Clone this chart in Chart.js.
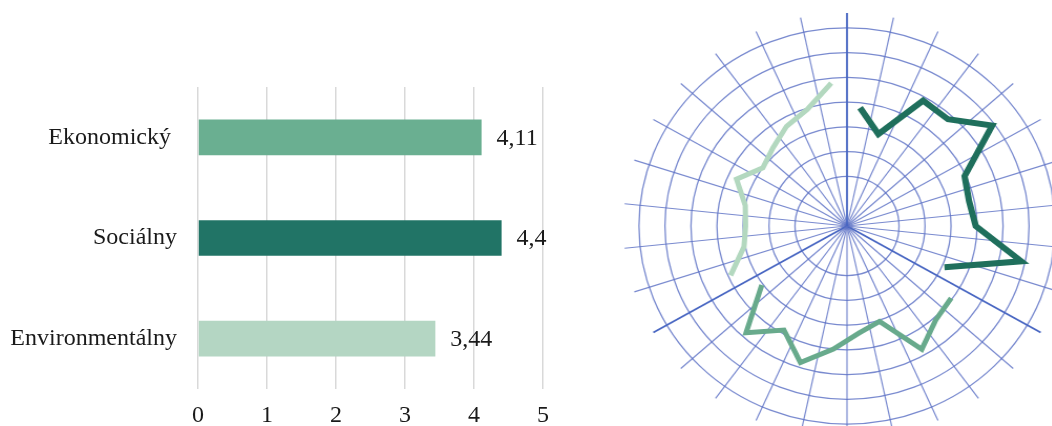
<!DOCTYPE html>
<html>
<head>
<meta charset="utf-8">
<script src="https://cdn.jsdelivr.net/npm/chart.js@4.4.1/dist/chart.umd.min.js"></script>
<style>
  html, body { margin: 0; padding: 0; background: #ffffff; overflow: hidden; }
  body { width: 1052px; height: 426px; position: relative; }
  #barBox { position: absolute; left: 0; top: 0; width: 600px; height: 426px; }
  #radarBox { position: absolute; left: 634px; top: 13px; width: 426px; height: 426px;
              transform: scaleX(1.05); transform-origin: 213px 213px; }
</style>
</head>
<body>
<div id="barBox"><canvas id="bars" width="600" height="426"></canvas></div>
<div id="radarBox"><canvas id="radar" width="426" height="426"></canvas></div>
<script>
// ---- Bar chart: average score per pillar ----
const categories = ['Ekonomický ', 'Sociálny', 'Environmentálny'];
const scores = [4.11, 4.4, 3.44];
const barColors = ['#6aaf91', '#217466', '#b4d6c3'];
const xTickValues = [0, 1, 2, 3, 4, 5];

// ---- Radar: 30 spokes, each pillar covers 10 of them ----
const spokeLabels = Array.from({ length: 30 }, () => '');
const mainAxes = [0, 10, 20];
const socialValues = [4.8, 3.9, 5.85, 5.8, 6.9, 4.95, 4.8, 4.95, 6.85, 4.1];
const economicValues = [4.95, 5.1, 5.75, 4.05, 4.35, 5.0, 5.8, 4.85, 5.8, 4.05];
const environmentalValues = [4.9, 4.05, 3.9, 4.0, 4.65, 4.0, 4.25, 4.65, 4.95, 5.8];

const serif = "'Liberation Serif', 'Times New Roman', serif";
const textColor = '#1a1a1a';

// writes the value at the end of each bar, with a decimal comma
const valueLabels = {
  id: 'valueLabels',
  afterDatasetsDraw(chart) {
    const { ctx } = chart;
    const meta = chart.getDatasetMeta(0);
    ctx.save();
    ctx.font = '24px ' + serif;
    ctx.fillStyle = textColor;
    ctx.textAlign = 'left';
    ctx.textBaseline = 'middle';
    meta.data.forEach((bar, i) => {
      const txt = String(chart.data.datasets[0].data[i]).replace('.', ',');
      ctx.fillText(txt, bar.x + 15, bar.y + 1);
    });
    ctx.restore();
  }
};

new Chart(document.getElementById('bars'), {
  type: 'bar',
  data: {
    labels: categories,
    datasets: [{
      data: scores,
      backgroundColor: barColors,
      borderWidth: 0,
      barPercentage: 0.355,
      categoryPercentage: 1
    }]
  },
  options: {
    indexAxis: 'y',
    responsive: false,
    animation: false,
    devicePixelRatio: 1,
    layout: { padding: { top: 87, right: 57, bottom: 0, left: 0 } },
    plugins: { legend: { display: false }, tooltip: { enabled: false } },
    scales: {
      x: {
        min: 0, max: 5,
        afterBuildTicks(scale) { scale.ticks = xTickValues.map(v => ({ value: v })); },
        afterFit(scale) { scale.height = 37; },
        grid: { color: '#d9d9d9', lineWidth: 1.5, drawTicks: false },
        border: { display: false },
        ticks: { padding: 12, color: textColor, font: { family: serif, size: 24 } }
      },
      y: {
        afterFit(scale) { scale.width = 198; },
        grid: { display: false, drawTicks: false },
        border: { display: false },
        ticks: { padding: 21, color: textColor, font: { family: serif, size: 24 } }
      }
    }
  },
  plugins: [valueLabels]
});

// builds a 30-slot series that only fills its own sector
function sector(values, first) {
  const out = spokeLabels.map(() => null);
  values.forEach((v, i) => { out[first + i] = v; });
  return out;
}

const gridBlue = 'rgba(92, 112, 196, 0.82)';
const axisBlue = '#4866c2';

new Chart(document.getElementById('radar'), {
  type: 'radar',
  data: {
    labels: spokeLabels,
    datasets: [
      { label: 'Sociálny', data: sector(socialValues, 0), borderColor: '#1f6f5c', borderWidth: 6 },
      { label: 'Ekonomický', data: sector(economicValues, 10), borderColor: '#68aa8c', borderWidth: 5 },
      { label: 'Environmentálny', data: sector(environmentalValues, 20), borderColor: '#b3d8bf', borderWidth: 5 }
    ].map(ds => Object.assign(ds, {
      rAxisID: 'r', fill: false, pointRadius: 0, pointHoverRadius: 0,
      spanGaps: false, borderJoinStyle: 'miter', tension: 0
    }))
  },
  options: {
    responsive: false,
    animation: false,
    devicePixelRatio: 1,
    layout: { padding: 0 },
    plugins: { legend: { display: false }, tooltip: { enabled: false } },
    scales: {
      // polar grid: rings at 2..8, spokes reaching slightly past the outer ring
      rgrid: {
        type: 'radialLinear', axis: 'r',
        min: 0, max: 8.6, startAngle: 0,
        ticks: { display: false, stepSize: 1 },
        pointLabels: { display: false },
        grid: {
          circular: true,
          color: gridBlue,
          lineWidth: ctx => (Number.isInteger(ctx.tick.value) && ctx.tick.value >= 2) ? 1.3 : 0
        },
        angleLines: {
          display: true,
          color: ctx => mainAxes.includes(ctx.index) ? axisBlue : gridBlue,
          lineWidth: ctx => mainAxes.includes(ctx.index) ? 1.8 : 1.2
        }
      },
      // value scale for the series, turned half a spoke
      r: {
        type: 'radialLinear', axis: 'r',
        display: false,
        min: 0, max: 8.6, startAngle: 6,
        ticks: { display: false },
        pointLabels: { display: false }
      }
    }
  }
});
</script>
</body>
</html>
